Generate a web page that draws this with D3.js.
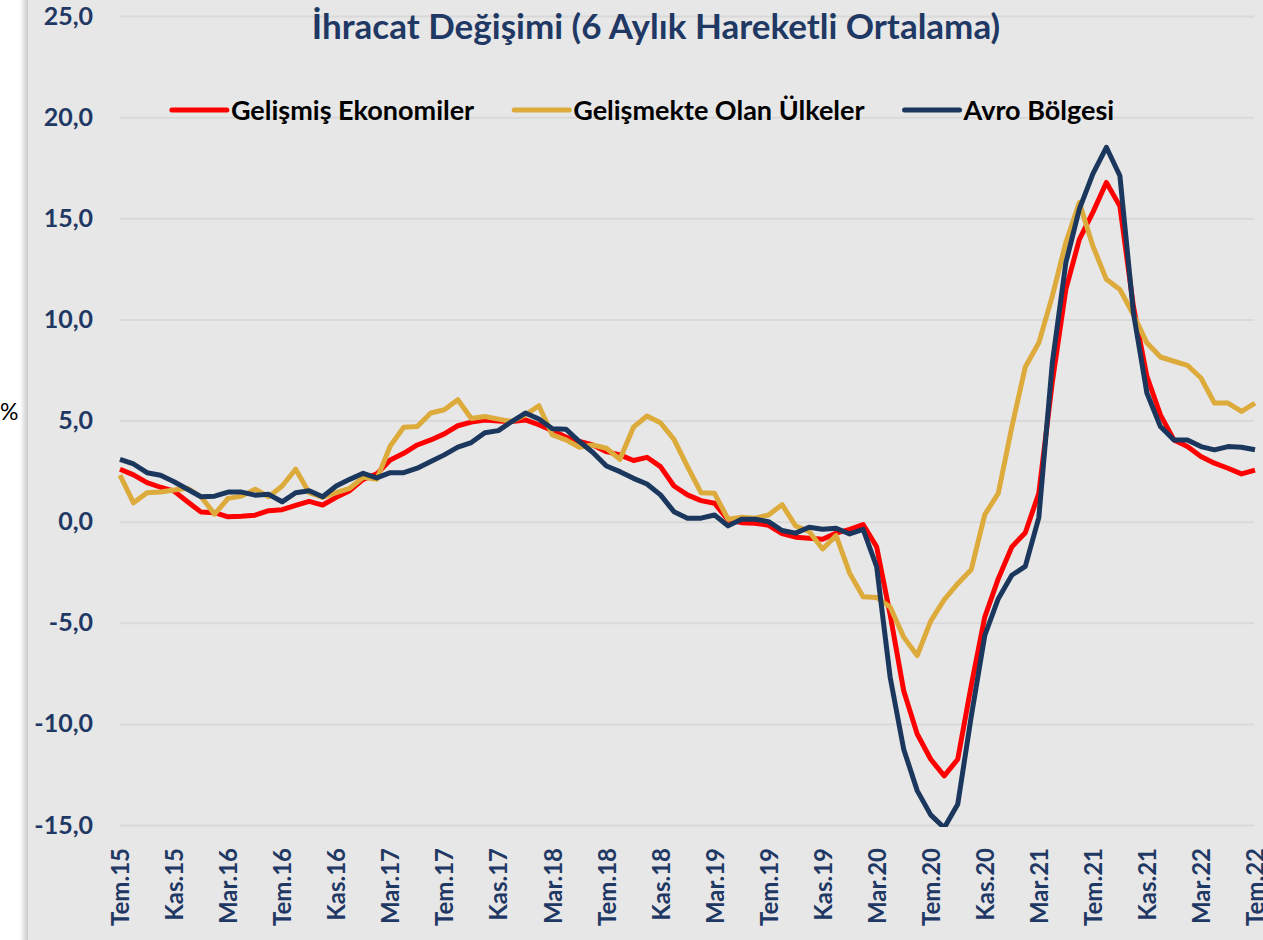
<!DOCTYPE html>
<meta charset="utf-8">
<style>
  body { margin: 0; background: #ffffff; }
  svg { display: block; }
  text { font-family: Lato, "Open Sans", sans-serif; }
</style>
<body>
<svg width="1263" height="940"></svg>

<script src="https://cdn.jsdelivr.net/npm/d3@7/dist/d3.min.js"></script>
<script>
  // monthly series, Tem.15 .. Tem.22 (85 months)
  var gelismis = [2.59, 2.31, 1.93, 1.70, 1.51, 0.98, 0.47, 0.44, 0.24, 0.27,
    0.32, 0.54, 0.59, 0.80, 1.00, 0.82, 1.20, 1.53, 2.09, 2.36,
    3.05, 3.38, 3.79, 4.04, 4.34, 4.74, 4.92, 5.02, 4.98, 4.95,
    5.03, 4.79, 4.50, 4.18, 3.96, 3.79, 3.46, 3.30, 3.02, 3.18,
    2.72, 1.76, 1.32, 1.04, 0.91, 0.08, -0.05, -0.08, -0.18, -0.59,
    -0.77, -0.82, -0.87, -0.57, -0.38, -0.15, -1.25, -4.60, -8.36, -10.50,
    -11.75, -12.57, -11.75, -8.10, -4.72, -2.82, -1.25, -0.55, 1.40, 6.90,
    11.48, 13.96, 15.29, 16.77, 15.60, 10.65, 7.18, 5.28, 4.04, 3.71,
    3.22, 2.89, 2.64, 2.36, 2.55]

  var gelismekte = [2.30, 0.93, 1.43, 1.46, 1.56, 1.65, 1.23, 0.37, 1.15, 1.26,
    1.60, 1.23, 1.76, 2.59, 1.43, 1.20, 1.43, 1.65, 2.19, 2.09,
    3.74, 4.67, 4.70, 5.37, 5.53, 6.03, 5.10, 5.20, 5.07, 4.95,
    5.28, 5.73, 4.29, 4.04, 3.68, 3.79, 3.63, 3.08, 4.67, 5.22,
    4.89, 4.07, 2.72, 1.43, 1.40, 0.12, 0.22, 0.17, 0.33, 0.84,
    -0.21, -0.49, -1.35, -0.69, -2.55, -3.72, -3.75, -4.22, -5.71, -6.62,
    -4.92, -3.86, -3.07, -2.37, 0.35, 1.40, 4.67, 7.65, 8.84, 11.15,
    13.80, 15.78, 13.63, 11.98, 11.48, 10.24, 8.84, 8.14, 7.93, 7.73,
    7.10, 5.86, 5.86, 5.45, 5.86]

  var avro = [3.08, 2.85, 2.42, 2.29, 1.97, 1.60, 1.23, 1.26, 1.46, 1.46,
    1.31, 1.35, 0.98, 1.43, 1.53, 1.23, 1.76, 2.09, 2.39, 2.16,
    2.42, 2.42, 2.64, 2.97, 3.30, 3.68, 3.91, 4.39, 4.50, 4.95,
    5.37, 5.07, 4.59, 4.57, 3.96, 3.42, 2.75, 2.47, 2.14, 1.86,
    1.32, 0.49, 0.17, 0.17, 0.33, -0.21, 0.12, 0.12, 0.00, -0.44,
    -0.57, -0.28, -0.38, -0.33, -0.61, -0.38, -2.23, -7.70, -11.25, -13.30,
    -14.50, -15.14, -13.98, -9.63, -5.63, -3.81, -2.65, -2.21, 0.20, 7.85,
    12.80, 15.45, 17.19, 18.51, 17.10, 10.33, 6.36, 4.70, 4.04, 4.04,
    3.71, 3.55, 3.71, 3.68, 3.55]

  // one label every 4 months
  var tickLabels = ["Tem.15", "Kas.15", "Mar.16", "Tem.16", "Kas.16", "Mar.17",
    "Tem.17", "Kas.17", "Mar.18", "Tem.18", "Kas.18", "Mar.19", "Tem.19",
    "Kas.19", "Mar.20", "Tem.20", "Kas.20", "Mar.21", "Tem.21", "Kas.21",
    "Mar.22", "Tem.22"]

  var yTicks = [-15, -10, -5, 0, 5, 10, 15, 20, 25]

  var seriesNames = ["Gelişmiş Ekonomiler", "Gelişmekte Olan Ülkeler", "Avro Bölgesi"]
  var seriesColors = ["#ff0000", "#ddab3b", "#1b375e"]

  var navy = "#1f3864"
  var svg = d3.select("svg")

  // grey chart panel with a soft shadow on its left edge
  var defs = svg.append("defs")
  var grad = defs.append("linearGradient").attr("id", "shade")
  grad.append("stop").attr("offset", "0%").attr("stop-color", "#ffffff")
  grad.append("stop").attr("offset", "100%").attr("stop-color", "#c9c9c9")
  svg.append("rect").attr("x", 20).attr("y", 0).attr("width", 8).attr("height", 940)
    .attr("fill", "url(#shade)")
  svg.append("rect").attr("x", 28).attr("y", 0).attr("width", 1235).attr("height", 940)
    .attr("fill", "#e7e7e7")

  var x = d3.scaleLinear().domain([0, gelismis.length - 1]).range([120, 1255])
  var y = d3.scaleLinear().domain([-15, 25]).range([825, 16])

  var trFormat = d3.formatLocale({
    decimal: ",", thousands: ".", grouping: [3], currency: ["", ""], minus: "-"
  }).format(".1f")

  // y axis + gridlines
  var yAxis = svg.append("g")
    .attr("transform", "translate(120,0)")
    .call(d3.axisLeft(y).tickValues(yTicks).tickFormat(trFormat)
      .tickSizeInner(-1134).tickSizeOuter(0).tickPadding(27))
  yAxis.select(".domain").remove()
  yAxis.selectAll("line").attr("stroke", "#d9d9d9").attr("stroke-width", 2)
  yAxis.selectAll("text")
    .attr("fill", navy)
    .style("font-size", "25px")
    .style("font-weight", "bold")

  // x axis labels, rotated
  var xAxis = svg.append("g")
    .attr("transform", "translate(0,848)")
    .call(d3.axisBottom(x).tickValues(d3.range(0, gelismis.length, 4))
      .tickFormat(function(d) { return tickLabels[d / 4] })
      .tickSize(0))
  xAxis.select(".domain").remove()
  xAxis.selectAll("text")
    .attr("transform", "rotate(-90)")
    .attr("x", 0)
    .attr("y", 0)
    .attr("dy", "0.36em")
    .style("text-anchor", "end")
    .attr("fill", navy)
    .style("font-size", "24px")
    .style("font-weight", "bold")

  // lines
  defs.append("clipPath").attr("id", "plot")
    .append("rect").attr("x", 28).attr("y", 0).attr("width", 1235).attr("height", 827)

  var line = d3.line()
    .x(function(d, i) { return x(i) })
    .y(function(d) { return y(d) })

  var allSeries = [gelismis, gelismekte, avro]
  svg.append("g")
    .attr("clip-path", "url(#plot)")
    .selectAll("path")
    .data(allSeries)
    .enter().append("path")
    .attr("d", line)
    .attr("fill", "none")
    .attr("stroke", function(d, i) { return seriesColors[i] })
    .attr("stroke-width", 5)
    .attr("stroke-linejoin", "round")

  // title
  svg.append("text")
    .attr("x", 656)
    .attr("y", 39)
    .attr("text-anchor", "middle")
    .attr("fill", navy)
    .style("font-size", "35px")
    .style("font-weight", "bold")
    .text("İhracat Değişimi (6 Aylık Hareketli Ortalama)")

  // legend, centred
  var legend = svg.append("g")
  var items = legend.selectAll("g").data(seriesNames).enter().append("g")
  items.append("line")
    .attr("x1", 0).attr("x2", 55).attr("y1", 0).attr("y2", 0)
    .attr("stroke", function(d, i) { return seriesColors[i] })
    .attr("stroke-width", 5)
    .attr("stroke-linecap", "round")
  items.append("text")
    .attr("x", 59)
    .attr("dy", "0.36em")
    .attr("fill", "#000000")
    .style("font-size", "27px")
    .style("font-weight", "bold")
    .text(function(d) { return d })

  var pos = 0
  items.each(function() {
    var w = 59 + this.querySelector("text").getComputedTextLength()
    d3.select(this).attr("transform", "translate(" + pos + ",0)")
    pos += w + 40
  })
  pos -= 40
  legend.attr("transform", "translate(" + (643 - pos / 2) + ",110)")

  // unit label outside the panel
  svg.append("text")
    .attr("x", 0)
    .attr("y", 412)
    .attr("dy", "0.36em")
    .attr("fill", "#000000")
    .style("font-size", "23px")
    .text("%")
</script>
</body>
